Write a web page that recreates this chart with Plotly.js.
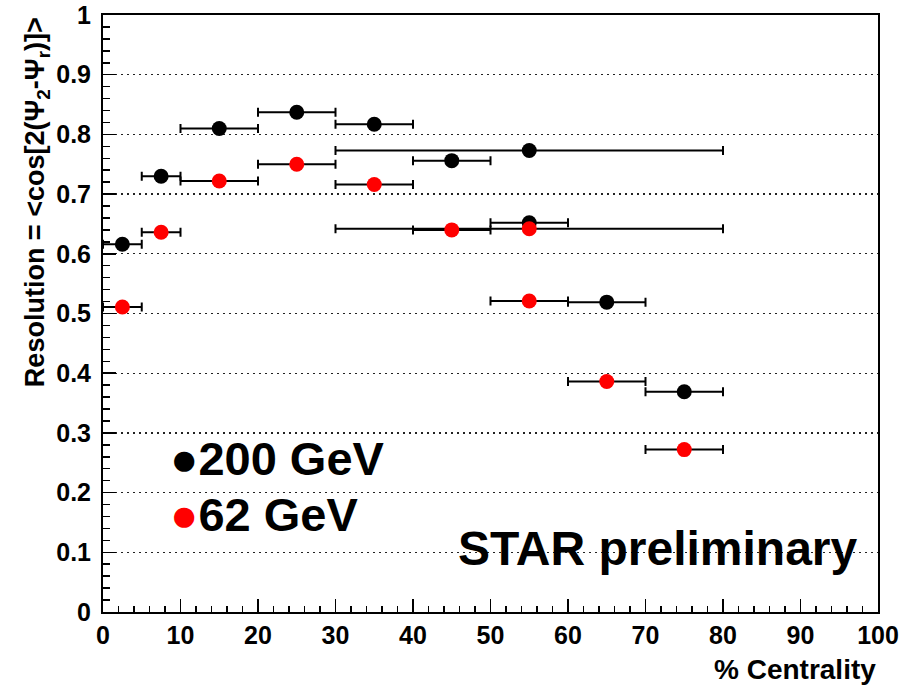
<!DOCTYPE html>
<html>
<head>
<meta charset="utf-8">
<script src="https://cdn.plot.ly/plotly-3.0.1.min.js"></script>
<style>
  html, body { margin: 0; padding: 0; background: #fff; }
  #chart { width: 919px; height: 686px; }
</style>
</head>
<body>
<div id="chart"></div>
<script>
// Event-plane resolution vs centrality, two beam energies
const centrality200 = [2.5, 7.5, 15, 25, 35, 45, 55, 55, 65, 75];
const resolution200 = [0.616, 0.730, 0.810, 0.837, 0.817, 0.756, 0.773, 0.652, 0.519, 0.369];
const binHalfWidth200 = [2.5, 2.5, 5, 5, 5, 5, 25, 5, 5, 5];

const centrality62 = [2.5, 7.5, 15, 25, 35, 45, 55, 55, 65, 75];
const resolution62 = [0.511, 0.636, 0.722, 0.750, 0.716, 0.640, 0.642, 0.521, 0.386, 0.272];
const binHalfWidth62 = [2.5, 2.5, 5, 5, 5, 5, 25, 5, 5, 5];

const xTickValues = [0, 10, 20, 30, 40, 50, 60, 70, 80, 90, 100];
const yTickValues = [0, 0.1, 0.2, 0.3, 0.4, 0.5, 0.6, 0.7, 0.8, 0.9, 1];

const FONT = 'Liberation Sans, Arial, Helvetica, sans-serif';

function series(x, y, err, color, name) {
  return {
    type: 'scatter',
    mode: 'markers',
    name: name,
    x: x,
    y: y,
    marker: { color: color, size: 15, symbol: 'circle', line: { width: 0 } },
    error_x: {
      type: 'data', array: err, symmetric: true, visible: true,
      color: '#000', thickness: 2, width: 4.5
    },
    cliponaxis: false
  };
}

const traces = [
  series(centrality200, resolution200, binHalfWidth200, '#000000', '200 GeV'),
  series(centrality62, resolution62, binHalfWidth62, '#ff0000', '62 GeV')
];

const layout = {
  width: 919,
  height: 686,
  paper_bgcolor: '#ffffff',
  plot_bgcolor: '#ffffff',
  showlegend: false,
  margin: { l: 103, r: 41, t: 15, b: 74, pad: 0 },
  font: { family: FONT, color: '#000' },
  xaxis: {
    range: [0, 100],
    tickvals: xTickValues,
    ticks: 'inside',
    ticklen: 13,
    tickwidth: 1.5,
    tickcolor: '#000',
    minor: { dtick: 2, ticks: 'inside', ticklen: 6, tickwidth: 1.5, tickcolor: '#000' },
    showgrid: false,
    zeroline: false,
    showline: true,
    linecolor: '#000',
    linewidth: 2,
    mirror: true,
    ticklabelstandoff: 0,
    tickfont: { family: FONT, size: 25, weight: 700, color: '#000' }
  },
  yaxis: {
    range: [0, 1],
    tickvals: yTickValues,
    ticks: 'inside',
    ticklen: 13,
    tickwidth: 1.5,
    tickcolor: '#000',
    minor: { dtick: 0.02, ticks: 'inside', ticklen: 7, tickwidth: 1.5, tickcolor: '#000', showgrid: false },
    showgrid: true,
    gridcolor: '#222',
    gridwidth: 1.3,
    griddash: '2px,4px',
    zeroline: false,
    showline: true,
    linecolor: '#000',
    linewidth: 2,
    mirror: true,
    ticklabelstandoff: 5,
    tickfont: { family: FONT, size: 25, weight: 700, color: '#000' }
  },
  annotations: [
    {
      text: 'Resolution = &lt;cos[2(Ψ<sub>2</sub>-Ψ<sub>r</sub>)]&gt;',
      xref: 'paper', yref: 'paper',
      x: -0.085, y: 1.0,
      xanchor: 'center', yanchor: 'top',
      textangle: -90,
      showarrow: false,
      font: { family: FONT, size: 27, weight: 700, color: '#000' }
    },
    {
      text: '% Centrality',
      xref: 'paper', yref: 'paper',
      x: 1.0, y: -0.097,
      xanchor: 'right', yanchor: 'middle',
      showarrow: false,
      font: { family: FONT, size: 28, weight: 700, color: '#000' }
    },
    {
      text: '<span style="color:#000000">●</span>200 GeV',
      xref: 'paper', yref: 'paper',
      x: 0.084, y: 0.257,
      xanchor: 'left', yanchor: 'middle',
      showarrow: false,
      font: { family: FONT, size: 47, weight: 700, color: '#000' }
    },
    {
      text: '<span style="color:#ff0000">●</span>62 GeV',
      xref: 'paper', yref: 'paper',
      x: 0.084, y: 0.164,
      xanchor: 'left', yanchor: 'middle',
      showarrow: false,
      font: { family: FONT, size: 47, weight: 700, color: '#000' }
    },
    {
      text: 'STAR preliminary',
      xref: 'paper', yref: 'paper',
      x: 0.455, y: 0.106,
      xanchor: 'left', yanchor: 'middle',
      showarrow: false,
      font: { family: FONT, size: 48, weight: 700, color: '#000' }
    }
  ]
};

Plotly.newPlot('chart', traces, layout, { staticPlot: true, displayModeBar: false });
</script>
</body>
</html>
